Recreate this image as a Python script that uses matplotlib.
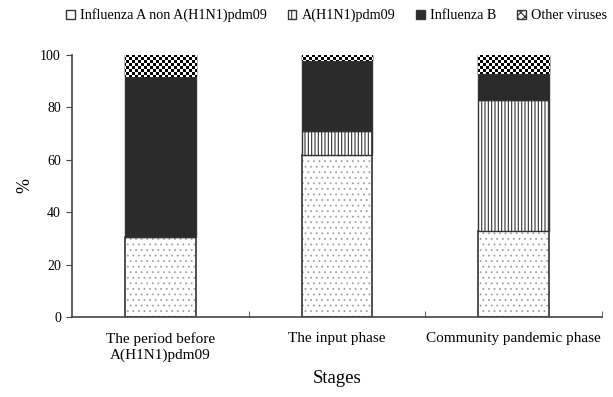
import numpy as np
import matplotlib
matplotlib.use("Agg")
import matplotlib.pyplot as plt
from matplotlib.patches import Patch

plt.rcParams['font.family'] = ['Liberation Serif', 'DejaVu Serif']
plt.rcParams['hatch.linewidth'] = 0.8

# data (percent of positives per stage)
stages = ['The period before\nA(H1N1)pdm09', 'The input phase', 'Community pandemic phase']
flu_a_non = [30.5, 62, 33]
h1n1 = [0, 9, 50]
flu_b = [61.5, 27, 10]
other = [8, 2, 7]

labels = ['Influenza A non A(H1N1)pdm09', 'A(H1N1)pdm09', 'Influenza B', 'Other viruses']

fig = plt.figure(figsize=(6.13, 3.97), dpi=100)
ax = fig.add_axes([0.1175, 0.2015, 0.8645, 0.66])

x = np.arange(len(stages))
w = 0.4
edge = '#333333'

plt.rcParams['hatch.linewidth'] = 0.6
b1 = ax.bar(x, flu_a_non, w, color='white', edgecolor='#a0a0a0', hatch='...', linewidth=0)
plt.rcParams['hatch.linewidth'] = 0.8
ax.bar(x, flu_a_non, w, fill=False, edgecolor=edge, linewidth=1.2)
bottom = np.array(flu_a_non, dtype=float)
b2 = ax.bar(x, h1n1, w, bottom=bottom, color='white', edgecolor=edge, hatch='|||||', linewidth=1.0)
bottom += h1n1
b3 = ax.bar(x, flu_b, w, bottom=bottom, color='#2b2b2b', edgecolor=edge, linewidth=1.0)
bottom += flu_b
b4 = ax.bar(x, other, w, bottom=bottom, color='white', edgecolor=edge, hatch='xxxx', linewidth=1.0)

# checkerboard fill for "other viruses", clipped to each bar
H, W = 397, 613
yy, xx = np.mgrid[0:H, 0:W]
checker = ((xx // 3 + yy // 3) % 2).astype(float)
for rect in b4:
    im = fig.figimage(checker, cmap='gray', vmin=0, vmax=1, zorder=5)
    im.set_clip_path(rect)
    ax.bar(rect.get_x() + rect.get_width() / 2, rect.get_height(), rect.get_width(),
           bottom=rect.get_y(), fill=False, edgecolor=edge, linewidth=1.0, zorder=6)

ax.set_xlim(-0.5, 2.5)
ax.set_ylim(0, 100)
ax.set_yticks([0, 20, 40, 60, 80, 100])
ax.set_xticks(x)
ax.set_xticklabels(stages, fontsize=11)
ax.tick_params(axis='x', length=0, pad=11)
ax.set_xticks([0.5, 1.5, 2.5], minor=True)
ax.tick_params(axis='x', which='minor', direction='in', length=4, color='#444444')
ax.tick_params(axis='y', labelsize=10, length=4, color='#444444', pad=4)
for s in ['top', 'right']:
    ax.spines[s].set_visible(False)
for s in ['left', 'bottom']:
    ax.spines[s].set_color('#444444')
    ax.spines[s].set_linewidth(1.2)

ax.set_xlabel('Stages', fontsize=13.5, labelpad=6)
ax.set_ylabel('%', fontsize=13, labelpad=5)

handles = [
    Patch(facecolor='white', edgecolor=edge),
    Patch(facecolor='white', edgecolor=edge, hatch='|||'),
    Patch(facecolor='#2b2b2b', edgecolor=edge),
    Patch(facecolor='white', edgecolor=edge, hatch='xxxx'),
]
fig.legend(handles, labels, loc='upper left', bbox_to_anchor=(0.094, 1.0), ncol=4,
           frameon=False, fontsize=10.2, handlelength=0.6, handleheight=0.6,
           handletextpad=0.4, columnspacing=1.45, borderaxespad=0.2)

fig.savefig('out.png', dpi=100)
